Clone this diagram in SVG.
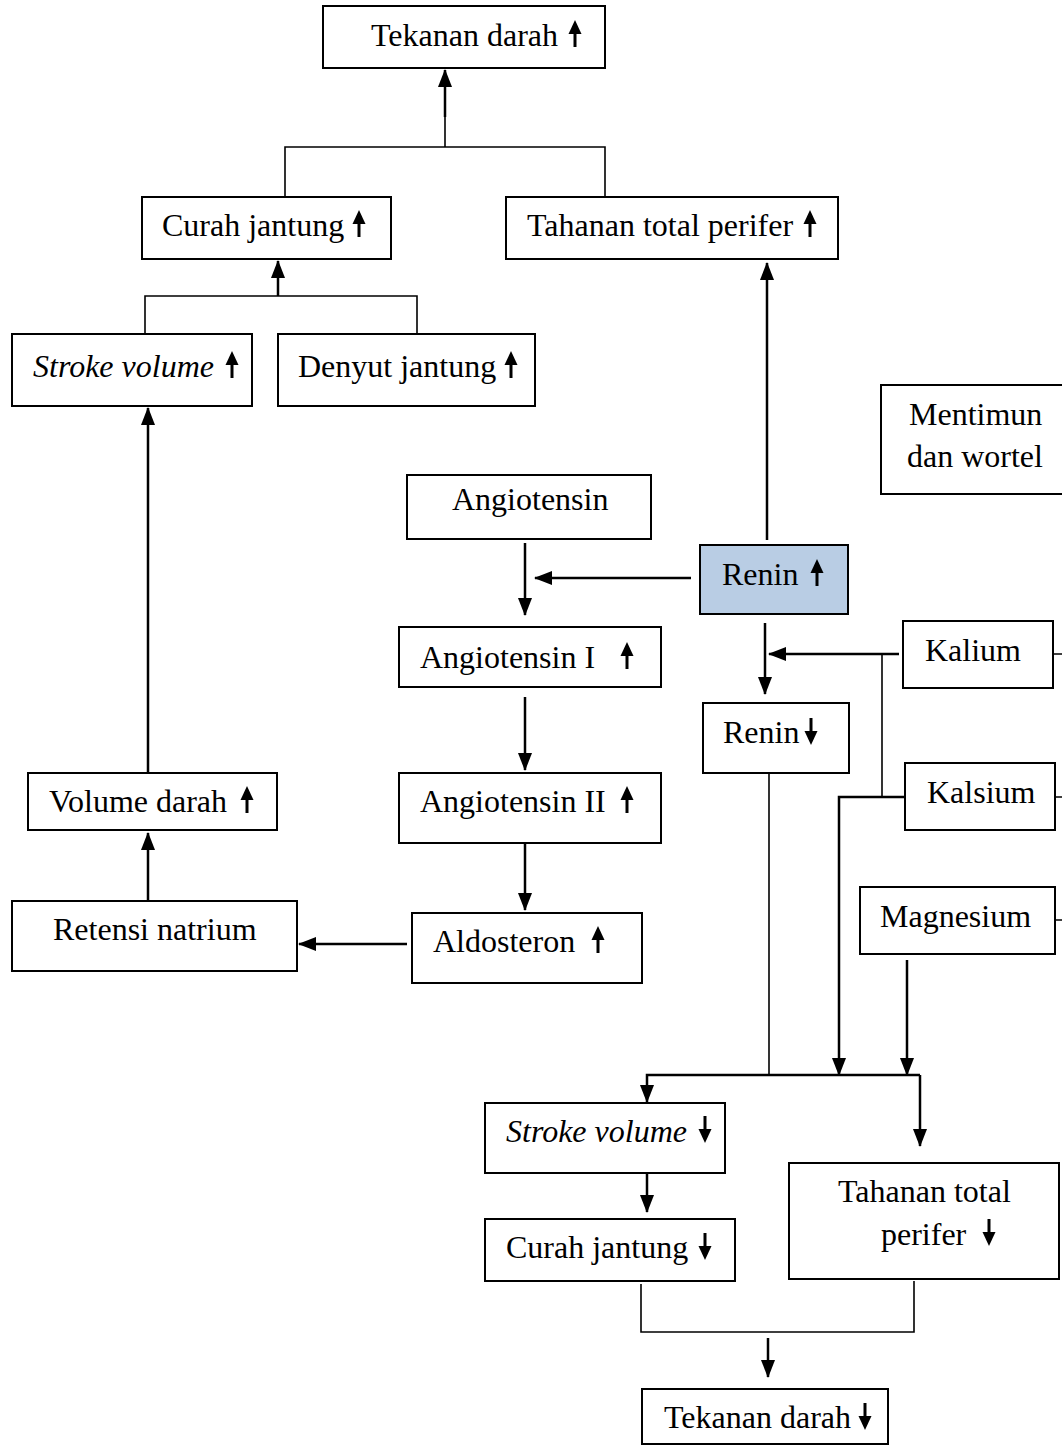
<svg xmlns="http://www.w3.org/2000/svg" width="1062" height="1446" viewBox="0 0 1062 1446">
<style>
.box{fill:#fff;stroke:#000;stroke-width:2}
.t{font-family:"Liberation Serif","Times New Roman",serif;font-size:32px;fill:#000}
.i{font-style:italic}
.c{fill:none;stroke:#000;stroke-width:2.5}
.b{fill:none;stroke:#000;stroke-width:1.6}
</style>
<defs>
<marker id="ah" markerUnits="userSpaceOnUse" markerWidth="18" markerHeight="18" viewBox="0 0 18 18" refX="17" refY="9" orient="auto">
<path d="M0,2 L18,9 L0,16 Z" fill="#000"/>
</marker>
<g id="up"><line x1="0" y1="0" x2="0" y2="-14" stroke="#000" stroke-width="3"/><polygon points="-6.5,-13 6.5,-13 0,-27" fill="#000"/></g>
<g id="dn"><line x1="0" y1="-27" x2="0" y2="-13" stroke="#000" stroke-width="3"/><polygon points="-6.5,-14 6.5,-14 0,0" fill="#000"/></g>
</defs>

<g id="connectors">
<path class="c" d="M445,117 V70" marker-end="url(#ah)"/>
<path class="b" d="M285,197 V147 H605 V197 M445,147 V117"/>
<path class="c" d="M278,296 V261" marker-end="url(#ah)"/>
<path class="b" d="M145,334 V296 H417 V334"/>
<path class="c" d="M148,773 V408" marker-end="url(#ah)"/>
<path class="c" d="M767,540 V263" marker-end="url(#ah)"/>
<path class="c" d="M691,578 H535" marker-end="url(#ah)"/>
<path class="c" d="M525,543 V615" marker-end="url(#ah)"/>
<path class="c" d="M525,697 V770" marker-end="url(#ah)"/>
<path class="c" d="M525,843 V910" marker-end="url(#ah)"/>
<path class="c" d="M407,944 H299" marker-end="url(#ah)"/>
<path class="c" d="M148,901 V833" marker-end="url(#ah)"/>
<path class="c" d="M765,623 V694" marker-end="url(#ah)"/>
<path class="c" d="M899,654 H769" marker-end="url(#ah)"/>
<path class="b" d="M882,654 V797"/>
<path class="b" d="M1053,654 H1062 M1055,797 H1062 M1055,920 H1062"/>
<path class="c" d="M905,797 H839 V1075" marker-end="url(#ah)"/>
<path class="c" d="M907,960 V1075" marker-end="url(#ah)"/>
<path class="b" d="M769,773 V1075"/>
<path class="c" d="M920,1075 H647 V1102" marker-end="url(#ah)"/>
<path class="c" d="M920,1075 V1146" marker-end="url(#ah)"/>
<path class="c" d="M647,1173 V1212" marker-end="url(#ah)"/>
<path class="b" d="M641,1284 V1332 H914 V1281"/>
<path class="c" d="M768,1338 V1377" marker-end="url(#ah)"/>
</g>

<g id="n-tekanan-up"><rect class="box" x="323" y="6" width="282" height="62"/><text class="t" x="371" y="46">Tekanan darah</text><use href="#up" x="575" y="47"/></g>
<g id="n-curah-up"><rect class="box" x="142" y="197" width="249" height="62"/><text class="t" x="162" y="236">Curah jantung</text><use href="#up" x="359" y="237"/></g>
<g id="n-tahanan-up"><rect class="box" x="506" y="197" width="332" height="62"/><text class="t" x="527" y="236">Tahanan total perifer</text><use href="#up" x="810" y="237"/></g>
<g id="n-stroke-up"><rect class="box" x="12" y="334" width="240" height="72"/><text class="t i" x="33" y="377">Stroke volume</text><use href="#up" x="232" y="378"/></g>
<g id="n-denyut-up"><rect class="box" x="278" y="334" width="257" height="72"/><text class="t" x="298" y="377">Denyut jantung</text><use href="#up" x="511" y="378"/></g>
<g id="n-mentimun"><rect class="box" x="881" y="385" width="190" height="109"/><text class="t" x="909" y="425">Mentimun</text><text class="t" x="907" y="467">dan wortel</text></g>
<g id="n-angiotensin"><rect class="box" x="407" y="475" width="244" height="64"/><text class="t" x="452" y="510">Angiotensin</text></g>
<g id="n-renin-up"><rect x="700" y="545" width="148" height="69" fill="#b9cde4" stroke="#000" stroke-width="2"/><text class="t" x="722" y="585">Renin</text><use href="#up" x="817" y="586"/></g>
<g id="n-angio1"><rect class="box" x="399" y="627" width="262" height="60"/><text class="t" x="420" y="668">Angiotensin I</text><use href="#up" x="627" y="669"/></g>
<g id="n-kalium"><rect class="box" x="903" y="621" width="150" height="67"/><text class="t" x="925" y="661">Kalium</text></g>
<g id="n-renin-dn"><rect class="box" x="703" y="703" width="146" height="70"/><text class="t" x="723" y="743">Renin</text><use href="#dn" x="811" y="745"/></g>
<g id="n-volume"><rect class="box" x="28" y="773" width="249" height="57"/><text class="t" x="49" y="812">Volume darah</text><use href="#up" x="247" y="813"/></g>
<g id="n-angio2"><rect class="box" x="399" y="773" width="262" height="70"/><text class="t" x="420" y="812">Angiotensin II</text><use href="#up" x="627" y="813"/></g>
<g id="n-kalsium"><rect class="box" x="905" y="763" width="150" height="67"/><text class="t" x="927" y="803">Kalsium</text></g>
<g id="n-magnesium"><rect class="box" x="860" y="887" width="195" height="67"/><text class="t" x="880" y="927">Magnesium</text></g>
<g id="n-retensi"><rect class="box" x="12" y="901" width="285" height="70"/><text class="t" x="53" y="940">Retensi natrium</text></g>
<g id="n-aldosteron"><rect class="box" x="412" y="913" width="230" height="70"/><text class="t" x="433" y="952">Aldosteron</text><use href="#up" x="598" y="953"/></g>
<g id="n-stroke-dn"><rect class="box" x="485" y="1103" width="240" height="70"/><text class="t i" x="506" y="1142">Stroke volume</text><use href="#dn" x="705" y="1143"/></g>
<g id="n-tahanan-dn"><rect class="box" x="789" y="1163" width="270" height="116"/><text class="t" x="838" y="1202">Tahanan total</text><text class="t" x="881" y="1245">perifer</text><use href="#dn" x="989" y="1246"/></g>
<g id="n-curah-dn"><rect class="box" x="485" y="1219" width="250" height="62"/><text class="t" x="506" y="1258">Curah jantung</text><use href="#dn" x="705" y="1260"/></g>
<g id="n-tekanan-dn"><rect class="box" x="642" y="1389" width="246" height="55"/><text class="t" x="664" y="1428">Tekanan darah</text><use href="#dn" x="865" y="1430"/></g>
</svg>
